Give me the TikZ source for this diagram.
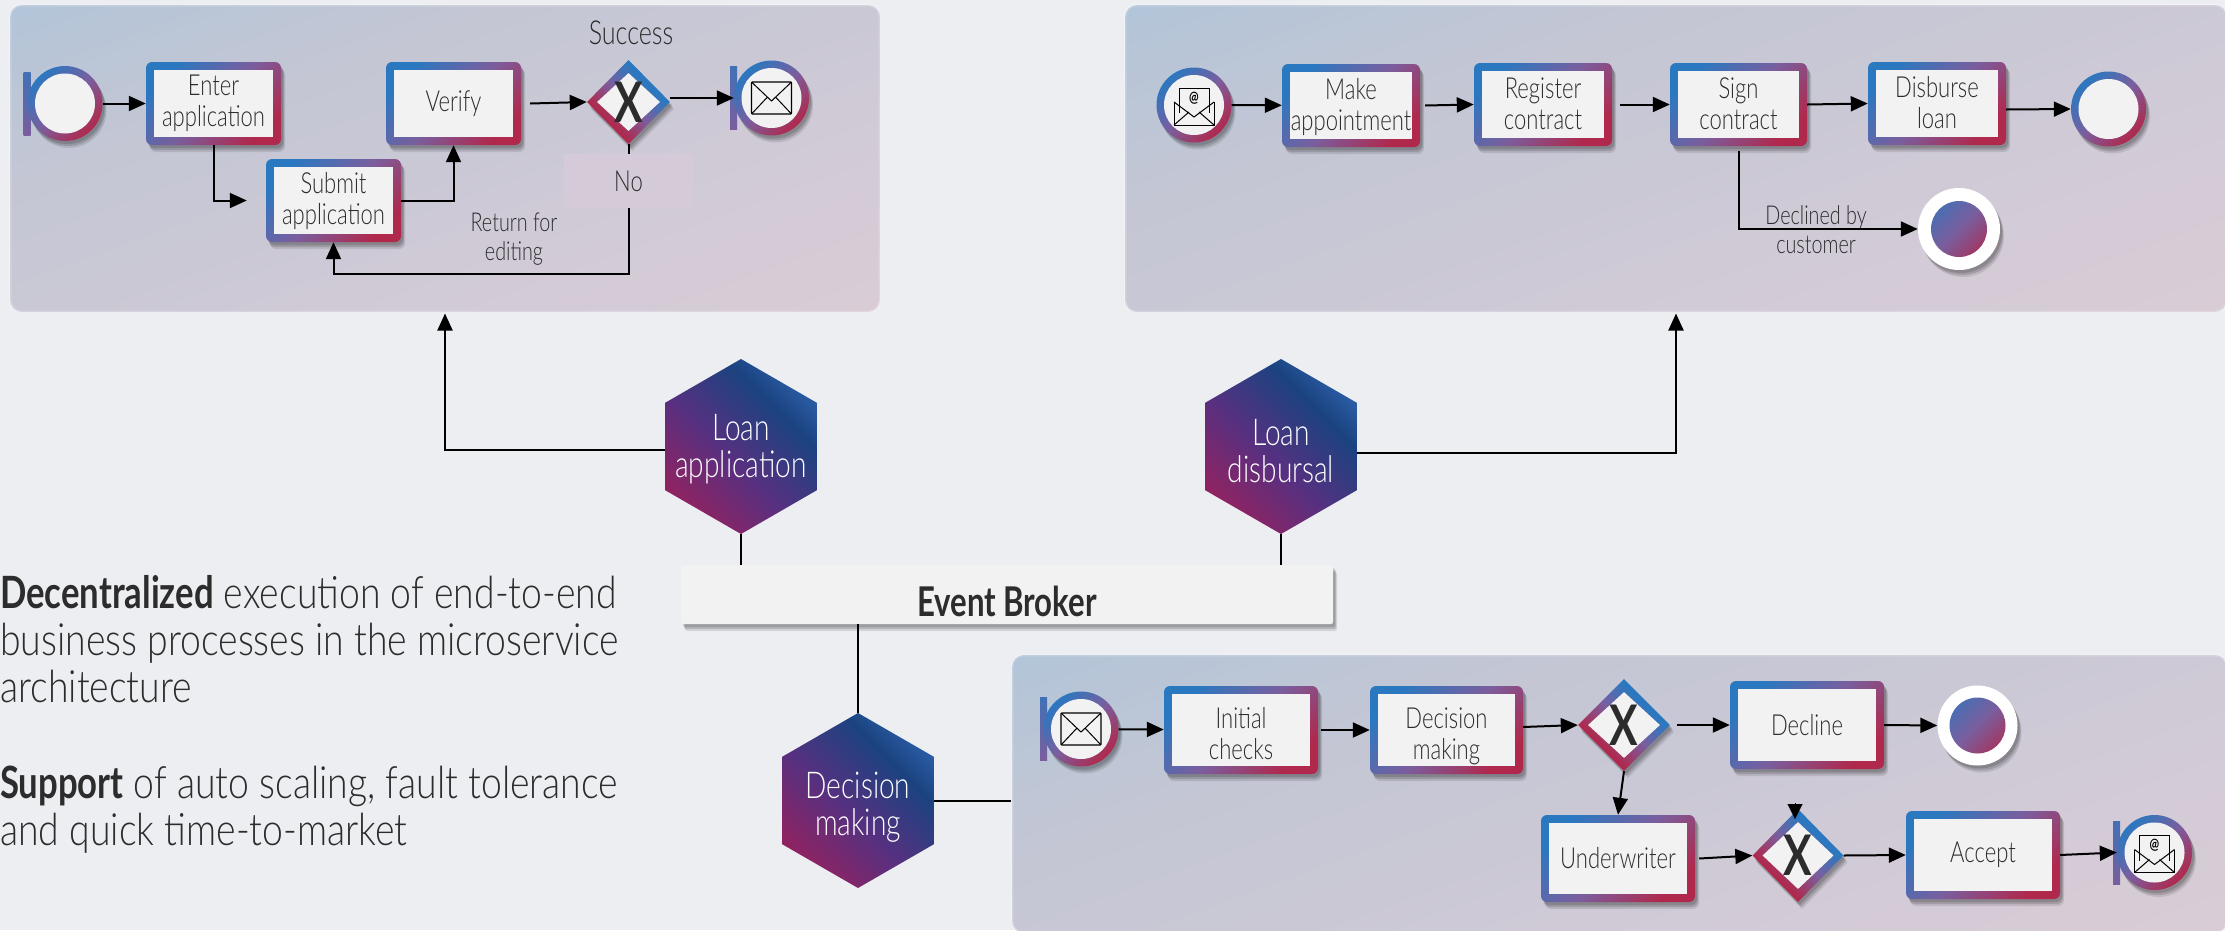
\documentclass[tikz,border=0pt]{standalone}
\usepackage{fontspec}
\setmainfont{Lato}[FakeStretch=0.76,UprightFont={Lato Light},BoldFont={Lato Bold}]
\newfontfamily\infofont{Lato}[FakeStretch=0.84,UprightFont={Lato Light},BoldFont={Lato Bold},BoldFeatures={FakeStretch=0.78}]
\usetikzlibrary{arrows.meta,calc,shadows,shapes.geometric}

\definecolor{pagebg}{HTML}{ECEEF2}
\definecolor{paper}{HTML}{F2F2F2}
\definecolor{inktext}{HTML}{2C2C2C}
\definecolor{nobg}{HTML}{D5CBD8}
\definecolor{gblue}{HTML}{2A78C0}
\definecolor{gmid}{HTML}{7A5E9E}
\definecolor{gred}{HTML}{B0284C}
\definecolor{ptop}{HTML}{B2C5D8}
\definecolor{pnext}{HTML}{C3C6D4}
\definecolor{pmid}{HTML}{CAC8D5}
\definecolor{plow}{HTML}{D2CBD7}
\definecolor{pend}{HTML}{D9CCD6}
\definecolor{hexa}{HTML}{2E62AD}
\definecolor{hexb}{HTML}{1B4380}
\definecolor{hexc}{HTML}{573080}
\definecolor{hexd}{HTML}{8F2362}

\pgfdeclareverticalshading{panelshade}{100bp}{color(0bp)=(pend); color(18bp)=(pend); color(35bp)=(plow); color(50bp)=(pmid); color(65bp)=(pnext); color(82bp)=(ptop); color(100bp)=(ptop)}
\pgfdeclareverticalshading{hexshade}{100bp}{color(0bp)=(hexd); color(25bp)=(hexd); color(45bp)=(hexc); color(66bp)=(hexb); color(78bp)=(hexa); color(100bp)=(hexa)}
\pgfdeclareverticalshading{gateshade}{100bp}{color(0bp)=(gred); color(33bp)=(gred); color(50bp)=(gmid); color(66bp)=(gblue); color(100bp)=(gblue)}

\newcommand{\tasksize}{\fontsize{29}{31}\selectfont}
\newcommand{\notesize}{\fontsize{26}{29}\selectfont}
\newcommand{\hexsize}{\fontsize{37}{35}\selectfont}
\newcommand{\infosize}{\infofont\fontsize{44.5}{47}\selectfont}
\newcommand{\shiftlabel}[2]{\raisebox{#1}[0pt][0pt]{\makebox[0pt]{\begin{tabular}{@{}c@{}}#2\end{tabular}}}}

\tikzset{
  softshadow/.style={
    drop shadow={shadow xshift=4pt,shadow yshift=-7pt,opacity=.10,fill=black},
    drop shadow={shadow xshift=3pt,shadow yshift=-5pt,opacity=.14,fill=black},
    drop shadow={shadow xshift=2pt,shadow yshift=-3pt,opacity=.14,fill=black}},
  gradfill/.style={top color=gblue,bottom color=gred,middle color=gmid,shading angle=45},
  panelbox/.style={shape=rectangle,rounded corners=12pt,shading=panelshade,shading angle=20,inner sep=0,
    draw=white,draw opacity=.18,line width=3pt},
  taskbox/.style={shape=rectangle,rounded corners=6pt,gradfill,softshadow,inner sep=0,align=center,
    font=\tasksize,text=inktext,
    path picture={\fill[paper,sharp corners] ($(path picture bounding box.north west)+(8,8)$)
      rectangle ($(path picture bounding box.south east)+(-8,-8)$);}},
  ringev/.style={shape=circle,gradfill,softshadow,minimum size=75pt,inner sep=0,
    path picture={\fill[paper] (path picture bounding box.center) circle (30);}},
  evbar/.style={shape=rectangle,top color=gblue!70!gmid,bottom color=gmid,inner sep=0,minimum width=7pt,minimum height=63pt},
  termev/.style={shape=circle,fill=white,softshadow,minimum size=#1,inner sep=0,
    path picture={\shade[top color=gblue!85!gmid,bottom color=gred,middle color=gmid,shading angle=45]
      (path picture bounding box.center) circle (28);}},
  gateway/.style={shape=diamond,shading=gateshade,shading angle=-45,
    softshadow,inner sep=0,text=inktext,font=\fontsize{56}{56}\selectfont\bfseries,
    path picture={\fill[paper] ($(path picture bounding box.north)+(0,13)$)
      -- ($(path picture bounding box.east)+(-10,0)$)
      -- ($(path picture bounding box.south)+(0,-13)$)
      -- ($(path picture bounding box.west)+(10,0)$) -- cycle;}},
  hexnode/.style={shape=regular polygon,regular polygon sides=6,regular polygon rotate=30,minimum size=175pt,inner sep=0,
    shading=hexshade,shading angle=-45,text=white,font=\hexsize},
  flow/.style={-{Triangle[length=17pt,width=15pt]},line width=2pt,black},
  wire/.style={line width=2pt,black},
  notetext/.style={align=center,font=\notesize,text=inktext},
  infotext/.style={anchor=west,align=left,font=\infosize,text=inktext,inner sep=0},
  envelope/.pic={
    \draw[black,line width=1.2pt,rounded corners=1pt,fill=paper] (-20,-16) rectangle (20,16);
    \draw[black,line width=1pt] (-20,-16) -- (0,3) -- (20,-16) (-20,16) -- (-4,-1) (20,16) -- (4,-1);
  },
  atenvelope/.pic={
    \draw[black,line width=1pt] (-20,-3) -- (-20,20) -- (20,20) -- (20,-3);
    \draw[black,line width=1pt,fill=paper] (-15,8) -- (-15,-17) -- (15,-17) -- (15,8);
    \node[font=\fontsize{15}{15}\selectfont\bfseries,text=black,inner sep=0] at (0,-7) {@};
    \draw[black,line width=1pt] (-20,-3) -- (0,12) -- (20,-3) (-20,20) -- (-5,7) (20,20) -- (5,7);
  },
}

\begin{document}
\begin{tikzpicture}[x=1pt,y=-1pt]
  \useasboundingbox (0,0) rectangle (2225,930);
  \fill[pagebg] (0,0) rectangle (2225,930);

  % panels
  \node[panelbox,minimum width=870pt,minimum height=307pt] (panel-app) at (445,158.5) {};
  \node[panelbox,minimum width=1102pt,minimum height=307pt] (panel-disb) at (1676,158.5) {};
  \node[panelbox,minimum width=1215pt,minimum height=278pt] (panel-dec) at (1619.5,794) {};

  % loan application
  \node[evbar] (start-bar) at (27,103.5) {};
  \node[ringev] (start-app) at (65,103.5) {};
  \node[taskbox,minimum width=135pt,minimum height=83pt] (enter-app) at (213.5,103.5) {Enter\\application};
  \node[taskbox,minimum width=135pt,minimum height=83pt] (verify) at (453.5,103.5) {Verify};
  \node[taskbox,minimum width=135pt,minimum height=83pt] (submit-app) at (333.5,200.5) {Submit\\application};
  \node[gateway,minimum width=83pt,minimum height=84pt] (gw-app) at (628.5,102) {X};
  \node[evbar] (end-app-bar) at (733.5,97.5) {};
  \node[ringev] (end-app) at (771.5,98) {};
  \pic at (end-app) {envelope};
  \node[font=\fontsize{33}{33}\selectfont,text=inktext] (success-txt) at (631,33) {Success};
  \node[fill=nobg,minimum width=129pt,minimum height=54pt,inner sep=0,font=\tasksize,text=inktext] (no-box) at (628.5,181) {No};
  \node[notetext] (return-txt) at (514,239.5) {Return for\\editing};
  \coordinate (return-bend) at (628.5,274);

  \draw[flow] (start-app) -- (enter-app);
  \draw[flow,shorten >=19pt] (enter-app.south) |- (submit-app.west);
  \draw[flow] (submit-app.east) -| (verify.south);
  \draw[flow] ([xshift=9pt]verify.east) -- (gw-app.west);
  \draw[flow] ([yshift=4pt]gw-app.east) -- (end-app.west);
  \draw[wire] (gw-app.south) -- (no-box.north);
  \draw[flow] (no-box.south) -- (return-bend) -| (submit-app.south);

  % loan disbursal
  \node[ringev] (start-disb) at (1194,105) {};
  \pic at (start-disb) {atenvelope};
  \node[taskbox,minimum width=138pt,minimum height=83pt] (make-appt) at (1351,105.5) {\shiftlabel{-10pt}{Make\\appointment}};
  \node[taskbox,minimum width=138pt,minimum height=83pt] (reg-contract) at (1543,104.5) {\shiftlabel{-10pt}{Register\\contract}};
  \node[taskbox,minimum width=137pt,minimum height=83pt] (sign-contract) at (1738.5,104.5) {\shiftlabel{-10pt}{Sign\\contract}};
  \node[taskbox,minimum width=138pt,minimum height=83pt] (disburse) at (1937,103.5) {\shiftlabel{-10pt}{Disburse\\loan}};
  \node[ringev] (end-disb) at (2108.5,109) {};
  \node[termev=82pt] (term-disb) at (1959,229) {};
  \node[notetext] (declined-txt) at (1816,230) {Declined by\\customer};

  \draw[flow] (start-disb) -- (make-appt);
  \draw[flow] ([xshift=5pt]make-appt.east) -- (reg-contract.west);
  \draw[flow] ([xshift=8pt]reg-contract.east) -- (sign-contract.west);
  \draw[flow] (sign-contract.east) -- (disburse.west);
  \draw[flow] ([yshift=-6pt]disburse.east) -- (end-disb.west);
  \draw[flow,shorten <=5pt] (sign-contract.south) |- (term-disb.west);

  % decision making
  \node[evbar] (start-dec-bar) at (1043.5,729) {};
  \node[ringev] (start-dec) at (1081,729) {};
  \pic at (start-dec) {envelope};
  \node[taskbox,minimum width=154pt,minimum height=88pt] (init-checks) at (1241,730) {\shiftlabel{-14pt}{Initial\\checks}};
  \node[taskbox,minimum width=153pt,minimum height=88pt] (dec-task) at (1446.5,730) {\shiftlabel{-14pt}{Decision\\making}};
  \node[gateway,minimum width=92pt,minimum height=92pt] (gw-dec) at (1624,725) {X};
  \node[taskbox,minimum width=154pt,minimum height=88pt] (decline) at (1807,725) {Decline};
  \node[termev=80pt] (term-dec) at (1977.5,725.5) {};
  \node[taskbox,minimum width=154pt,minimum height=87pt] (underwriter) at (1618,858.5) {Underwriter};
  \node[gateway,minimum width=91pt,minimum height=93pt] (gw-under) at (1798,855.5) {X};
  \node[taskbox,minimum width=154pt,minimum height=88pt] (accept) at (1983,855) {Accept};
  \node[evbar] (end-dec-bar) at (2116.5,853) {};
  \node[ringev] (end-dec) at (2154.5,852.5) {};
  \pic at (end-dec) {atenvelope};
  \coordinate (gw-under-top) at (1795,803);

  \draw[flow] (start-dec) -- (init-checks);
  \draw[flow] ([xshift=3pt]init-checks.east) -- (dec-task.west);
  \draw[flow] ([yshift=3pt]dec-task.east) -- (gw-dec.west);
  \draw[flow] (gw-dec.south) -- (underwriter.north);
  \draw[flow] ([xshift=7pt]gw-dec.east) -- (decline.west);
  \draw[flow] (decline.east) -- (term-dec.west);
  \draw[flow] ([xshift=4pt]underwriter.east) -- (gw-under.west);
  \draw[flow] (gw-under.east) -- (accept.west);
  \draw[flow] (accept.east) -- (end-dec.west);
  \draw[-{Triangle[length=15pt,width=15pt]},line width=.1pt] (gw-under-top) -- ++(0,16);

  % services
  \node[hexnode] (loan-app) at (741,446.5) {\shiftlabel{-11pt}{Loan\\application}};
  \node[hexnode] (loan-disb) at (1281,446.5) {\shiftlabel{-16pt}{Loan\\disbursal}};
  \node[hexnode] (dec-making) at (858,800.5) {\shiftlabel{-15pt}{Decision\\making}};
  \node[shape=rectangle,fill=paper,softshadow,minimum width=652pt,minimum height=59pt,inner sep=0,
    rounded corners=2pt,font=\fontsize{41}{41}\selectfont\bfseries,text=inktext] (broker) at (1007,594.5) {\raisebox{-22pt}[0pt][0pt]{Event Broker}};

  \draw[flow] ([yshift=-3.5pt]loan-app.west) -| (panel-app.south);
  \draw[flow] ([yshift=-6.5pt]loan-disb.east) -| (panel-disb.south);
  \draw[wire] (loan-app.south) -- (loan-app.south |- broker.north);
  \draw[wire] (loan-disb.south) -- (loan-disb.south |- broker.north);
  \draw[wire] (dec-making.north) -- (dec-making.north |- broker.south);
  \draw[wire] (dec-making.east) -- (dec-making.east -| panel-dec.west);

  % text on the left
  \node[infotext] (info-one) at (0,639) {\textbf{Decentralized} execution of end-to-end\\business processes in the microservice\\architecture};
  \node[infotext] (info-two) at (0,810) {\textbf{Support} of auto scaling, fault tolerance\\and quick time-to-market};
\end{tikzpicture}
\end{document}
